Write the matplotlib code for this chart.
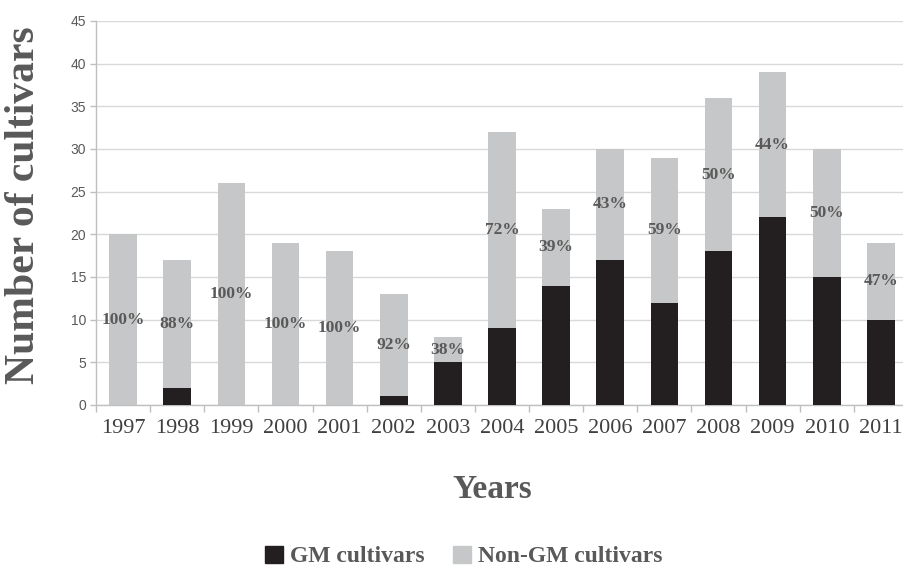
import matplotlib
matplotlib.use("Agg")
import matplotlib.pyplot as plt
from matplotlib.patches import Patch
import numpy as np

years = ["1997", "1998", "1999", "2000", "2001", "2002", "2003", "2004",
         "2005", "2006", "2007", "2008", "2009", "2010", "2011"]
gm = [0, 2, 0, 0, 0, 1, 5, 9, 14, 17, 12, 18, 22, 15, 10]
non_gm = [20, 15, 26, 19, 18, 12, 3, 23, 9, 13, 17, 18, 17, 15, 9]
pct_labels = ["100%", "88%", "100%", "100%", "100%", "92%", "38%", "72%",
              "39%", "43%", "59%", "50%", "44%", "50%", "47%"]

GM_COLOR = "#231f20"
NON_COLOR = "#c6c7c9"
TEXT_GRAY = "#595959"
SERIF = "Liberation Serif"

fig = plt.figure(figsize=(9.04, 5.69), dpi=100)
ax = fig.add_axes([96 / 904, 164 / 569, 812 / 904, 384 / 569])

x = np.arange(len(years))
width = 0.51
ax.bar(x, gm, width, color=GM_COLOR, zorder=3)
ax.bar(x, non_gm, width, bottom=gm, color=NON_COLOR, zorder=3)

for xi, g, n, lab in zip(x, gm, non_gm, pct_labels):
    ax.text(xi, g + n / 2, lab, ha="center", va="center", fontsize=12.5,
            fontweight="bold", color=TEXT_GRAY, family=SERIF, zorder=4)

ax.set_xlim(-0.5, len(years) - 0.5)
ax.set_ylim(0, 45)
ax.set_yticks(range(0, 46, 5))
ax.yaxis.grid(True, color="#d9d9d9", linewidth=1.0, zorder=0)

ax.set_xticks(x)
ax.set_xticklabels(years, family=SERIF, fontsize=16, color="#404040")
ax.set_xticks(np.arange(-0.5, len(years), 1.0), minor=True)
ax.tick_params(axis="x", which="major", length=0, pad=10)
ax.tick_params(axis="x", which="minor", length=5, color="#bfbfbf", width=1)
ax.tick_params(axis="y", length=4, color="#bfbfbf", width=1, pad=3,
               labelsize=10, labelcolor=TEXT_GRAY)
for lab in ax.get_yticklabels():
    lab.set_family("Liberation Sans")

for side in ["top", "right"]:
    ax.spines[side].set_visible(False)
for side in ["left", "bottom"]:
    ax.spines[side].set_color("#bfbfbf")
    ax.spines[side].set_linewidth(1.0)

fig.text(0.027, 0.64, "Number of cultivars", rotation=90, ha="center",
         va="center", fontsize=30, fontweight="bold", color=TEXT_GRAY,
         family=SERIF)
fig.text(0.545, 0.139, "Years", ha="center", va="center", fontsize=24,
         fontweight="bold", color=TEXT_GRAY, family=SERIF)

handles = [Patch(color=GM_COLOR, label="GM cultivars"),
           Patch(color=NON_COLOR, label="Non-GM cultivars")]
fig.legend(handles=handles, loc="center", bbox_to_anchor=(0.513, 0.022),
           ncol=2, frameon=False, handlelength=0.75, handleheight=0.75,
           handletextpad=0.3, columnspacing=1.2,
           prop={"family": SERIF, "weight": "bold", "size": 17},
           labelcolor=TEXT_GRAY, borderpad=0, borderaxespad=0)

fig.savefig("out.png", dpi=100)
